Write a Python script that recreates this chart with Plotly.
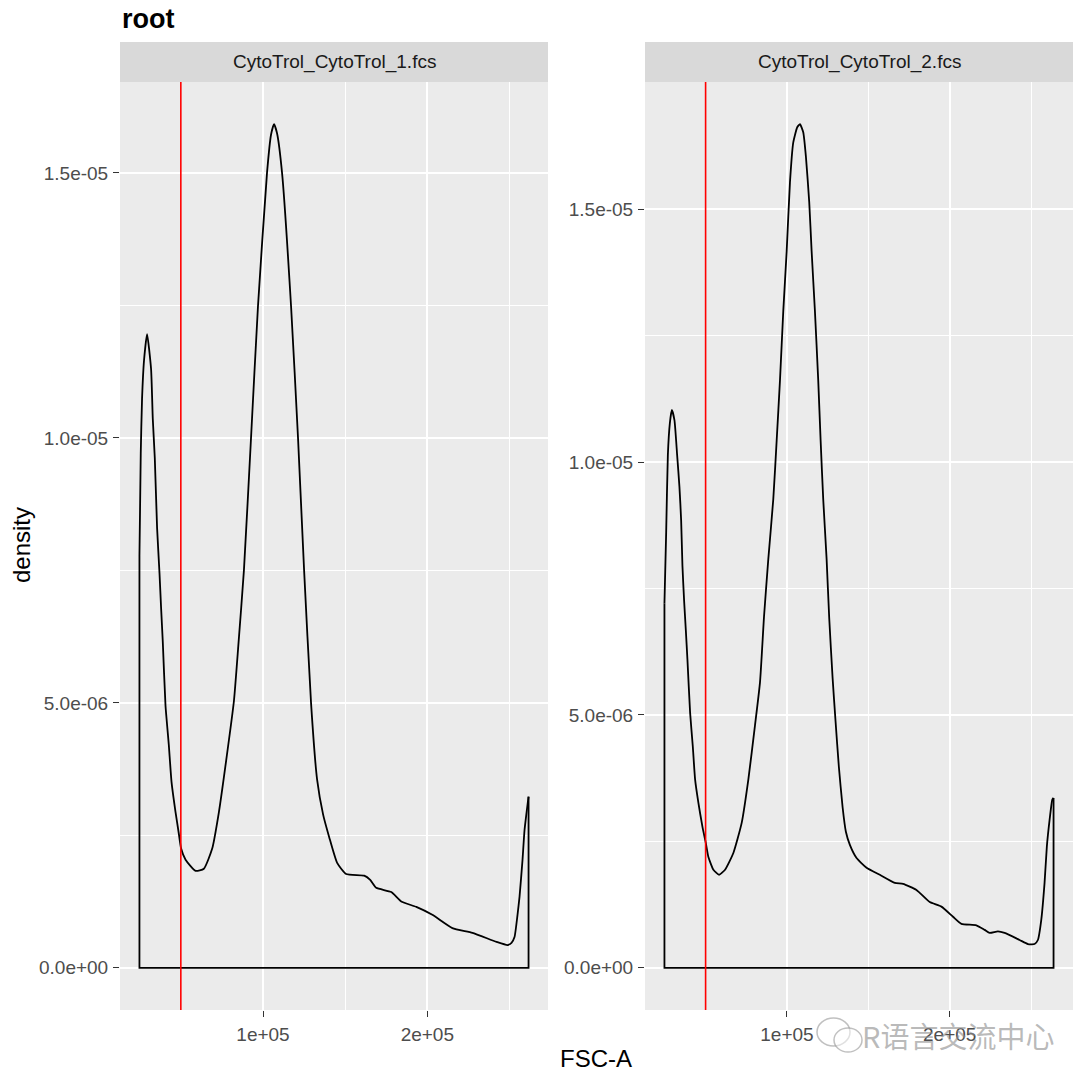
import plotly.graph_objects as go
import numpy as np

W, H = 1080, 1082

# ---------------- data ----------------
title = "root"
panels = ["CytoTrol_CytoTrol_1.fcs", "CytoTrol_CytoTrol_2.fcs"]
gate_x = 50000

fsc_1 = [24820, 24820, 25610, 26400, 27620, 29450, 31890, 32930, 34150, 35550, 37010, 37990,
         39020, 40670, 42680, 44330, 46770, 48780, 50180, 52870, 58970, 64020, 69090, 73170,
         77620, 82320, 84940, 88410, 92680, 96950, 102440, 104880, 106710, 108540, 111590,
         117070, 121340, 125000, 129270, 132930, 136590, 140240, 145120, 150610, 161590,
         165240, 168900, 178050, 184150, 193290, 203050, 215240, 227440, 242070, 248780,
         251220, 253050, 254880, 256100, 257930, 259150, 261590, 261590]
dens_1 = [0, 7.77, 9.70, 10.74, 11.47, 11.96, 11.30, 10.36, 9.62, 8.30, 7.45, 6.79,
          6.15, 4.95, 4.21, 3.51, 2.94, 2.53, 2.25, 2.04, 1.83, 1.87, 2.25, 2.94,
          3.92, 5.04, 6.06, 7.51, 9.98, 12.49, 15.00, 15.72, 15.92, 15.75, 15.00,
          12.49, 9.98, 7.51, 4.98, 3.55, 2.89, 2.47, 1.98, 1.77, 1.74,
          1.66, 1.51, 1.43, 1.25, 1.15, 1.00, 0.75, 0.66, 0.49, 0.43,
          0.47, 0.58, 1.00, 1.34, 2.04, 2.60, 3.23, 0]  # x 1e-6

fsc_2 = [24720, 24720, 25770, 26810, 28040, 29260, 30860, 32510, 33930, 34970, 35770, 36810,
         37850, 38830, 40490, 42150, 43560, 45580, 48040, 50120, 51720, 54790, 58280, 61960,
         67060, 72210, 76260, 80370, 83440, 85890, 88530, 91600, 93680, 95710, 97730, 99820,
         101840, 103870, 106320, 107980, 110000, 111660, 113680, 115150, 117180, 119200,
         120680, 122270, 124360, 125950, 128040, 129880, 131900, 134170, 136200, 138650,
         142760, 148900, 157060, 166260, 171350, 179570, 187730, 194910, 202030, 207180,
         216380, 221470, 224540, 229630, 233740, 242950, 248040, 252150, 254170, 256260,
         258280, 259690, 261350, 263010, 263800, 263800]
dens_2 = [0, 7.21, 8.60, 10.14, 10.77, 11.03, 10.83, 10.14, 9.51, 8.85, 7.95, 7.25,
          6.68, 6.10, 5.04, 4.37, 3.72, 3.26, 2.79, 2.47, 2.19, 1.94, 1.84, 1.94,
          2.27, 2.87, 3.72, 4.80, 5.65, 6.94, 8.08, 9.27, 10.43, 11.62, 12.98, 14.17,
          15.53, 16.32, 16.62, 16.68, 16.52, 16.03, 15.14, 14.17, 12.98, 11.62,
          10.43, 9.27, 8.08, 6.92, 5.73, 4.86, 3.97, 3.18, 2.69, 2.43,
          2.17, 1.98, 1.84, 1.68, 1.66, 1.54, 1.30, 1.21, 1.01, 0.87,
          0.84, 0.75, 0.69, 0.72, 0.69, 0.55, 0.47, 0.47, 0.55, 0.95,
          1.68, 2.40, 2.92, 3.32, 3.36, 0]  # x 1e-6

x_ticks = [1e5, 2e5]
x_tick_labels = ["1e+05", "2e+05"]
x_minor = [5e4, 1.5e5, 2.5e5]
y_ticks = [0, 5e-6, 1e-5, 1.5e-5]
y_tick_labels = ["0.0e+00", "5.0e-06", "1.0e-05", "1.5e-05"]
y_minor = [2.5e-6, 7.5e-6, 1.25e-5, 1.75e-5]

x_label = "FSC-A"
y_label = "density"
watermark = "R语言交流中心"

# ---------------- layout geometry (pixels) ----------------
FONT = "Liberation Sans, Arial, sans-serif"
panel_px = [(120, 548), (645, 1073)]
panel_top, panel_bot = 82, 1010
strip_top = 42


def fx(p):
    return p / W


def fy(p):
    return 1 - p / H


def expand(lo, hi, m=0.05):
    d = (hi - lo) * m
    return [lo - d, hi + d]


fig = go.Figure()
series = [(fsc_1, dens_1), (fsc_2, dens_2)]

for i, (xs, ys) in enumerate(series):
    xs = np.array(xs, dtype=float)
    ys = np.array(ys, dtype=float) * 1e-6
    ax = "" if i == 0 else str(i + 1)
    # smooth density curve (interior points)
    fig.add_trace(go.Scatter(x=xs[1:-1], y=ys[1:-1], mode="lines",
                             line=dict(color="black", width=1.8, shape="spline",
                                       smoothing=0.5),
                             xaxis="x" + ax, yaxis="y" + ax,
                             showlegend=False, hoverinfo="skip"))
    # outline closing edges (right edge, baseline, left edge) like geom_density
    edge_x = [xs[-2], xs[-1], xs[0], xs[1]]
    edge_y = [ys[-2], ys[-1], ys[0], ys[1]]
    fig.add_trace(go.Scatter(x=edge_x, y=edge_y, mode="lines",
                             line=dict(color="black", width=1.8),
                             xaxis="x" + ax, yaxis="y" + ax,
                             showlegend=False, hoverinfo="skip"))
    l, r = panel_px[i]
    common_axis = dict(
        showline=False, zeroline=False,
        ticks="outside", ticklen=6, tickwidth=1.3, tickcolor="#333333",
        tickfont=dict(family=FONT, size=19, color="#4D4D4D"),
        showgrid=True, gridcolor="white", gridwidth=1.8,
    )
    xa = dict(common_axis,
              domain=[fx(l), fx(r)], range=expand(xs.min(), xs.max()),
              anchor="y" + ax, tickmode="array",
              tickvals=x_ticks, ticktext=x_tick_labels,
              ticklabelstandoff=1,
              minor=dict(tickmode="array", tickvals=x_minor, showgrid=True,
                         gridcolor="white", gridwidth=0.9, ticks=""))
    ya = dict(common_axis,
              domain=[fy(panel_bot), fy(panel_top)], range=expand(0, ys.max()),
              anchor="x" + ax, tickmode="array",
              tickvals=y_ticks, ticktext=y_tick_labels,
              ticklabelstandoff=1,
              minor=dict(tickmode="array", tickvals=y_minor, showgrid=True,
                         gridcolor="white", gridwidth=0.9, ticks=""))
    fig.layout["xaxis" + ax] = xa
    fig.layout["yaxis" + ax] = ya

    # gate line
    fig.add_shape(type="line", xref="x" + ax, yref="y" + ax + " domain",
                  x0=gate_x, x1=gate_x, y0=0, y1=1,
                  line=dict(color="#FF0000", width=1.6))
    # strip
    fig.add_shape(type="rect", xref="paper", yref="paper",
                  x0=fx(l), x1=fx(r), y0=fy(panel_top), y1=fy(strip_top),
                  fillcolor="#D9D9D9", line=dict(width=0), layer="below")
    fig.add_annotation(x=fx((l + r) / 2), y=fy((strip_top + panel_top) / 2),
                       xref="paper", yref="paper", text=panels[i], showarrow=False,
                       xanchor="center", yanchor="middle",
                       font=dict(family=FONT, size=19, color="#1A1A1A"))

# title
fig.add_annotation(x=fx(120), y=fy(19), xref="paper", yref="paper",
                   text="<b>" + title + "</b>", showarrow=False,
                   xanchor="left", yanchor="middle",
                   font=dict(family=FONT, size=27, color="black"))
# axis titles
fig.add_annotation(x=fx(596), y=fy(1058), xref="paper", yref="paper",
                   text=x_label, showarrow=False, xanchor="center", yanchor="middle",
                   font=dict(family=FONT, size=24, color="black"))
fig.add_annotation(x=fx(21), y=fy(545), xref="paper", yref="paper",
                   text=y_label, showarrow=False, textangle=-90,
                   xanchor="center", yanchor="middle",
                   font=dict(family=FONT, size=24, color="black"))

# watermark (WeChat-like icon + text)
fig.add_shape(type="circle", xref="paper", yref="paper",
              x0=fx(817), x1=fx(850), y0=fy(1046), y1=fy(1018),
              line=dict(color="rgba(150,150,150,0.6)", width=1.5))
fig.add_shape(type="circle", xref="paper", yref="paper",
              x0=fx(834), x1=fx(862), y0=fy(1052), y1=fy(1028),
              line=dict(color="rgba(150,150,150,0.6)", width=1.5),
              fillcolor="rgba(255,255,255,0.5)")
fig.add_annotation(x=fx(958), y=fy(1035), xref="paper", yref="paper",
                   text=watermark, showarrow=False, xanchor="center", yanchor="middle",
                   font=dict(family="Noto Sans CJK SC", size=29,
                             color="rgba(140,140,140,0.6)"))

fig.update_layout(width=W, height=H, margin=dict(l=0, r=0, t=0, b=0),
                  paper_bgcolor="white", plot_bgcolor="#EBEBEB",
                  showlegend=False)

fig.write_html("out.html", config={"displayModeBar": False},
               post_script="document.body.style.margin='0px';document.body.style.overflow='hidden';")
